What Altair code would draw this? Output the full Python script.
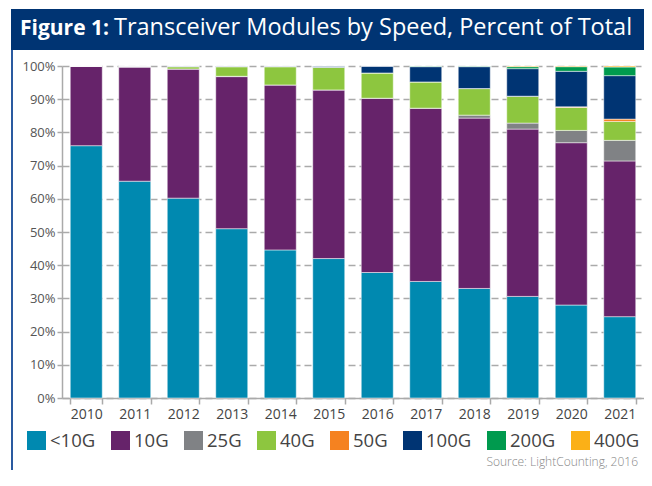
import altair as alt
import pandas as pd

years = [str(y) for y in range(2010, 2022)]
speeds = ["<10G", "10G", "25G", "40G", "50G", "100G", "200G", "400G"]
colors = ["#0089b0", "#66236a", "#808285", "#8dc63f", "#f58220", "#003473", "#009a4e", "#fbb017"]

# percent of total per speed, per year (2010..2021)
s_lt10g = [76.0, 65.3, 60.2, 51.0, 44.6, 42.0, 37.8, 35.1, 33.0, 30.6, 28.0, 24.5]
s_10g   = [24.0, 34.4, 38.9, 45.8, 49.7, 50.8, 52.5, 52.2, 51.3, 50.4, 48.9, 46.9]
s_25g   = [0.0, 0.0, 0.0, 0.1, 0.0, 0.0, 0.0, 0.0, 0.9, 1.8, 3.7, 6.2]
s_40g   = [0.0, 0.2, 0.7, 2.9, 5.5, 6.8, 7.6, 7.9, 8.0, 8.1, 6.9, 5.7]
s_50g   = [0.0, 0.0, 0.0, 0.0, 0.0, 0.0, 0.0, 0.0, 0.0, 0.0, 0.2, 0.7]
s_100g  = [0.0, 0.1, 0.2, 0.2, 0.2, 0.4, 2.1, 4.6, 6.6, 8.3, 10.7, 13.1]
s_200g  = [0.0, 0.0, 0.0, 0.0, 0.0, 0.0, 0.0, 0.2, 0.2, 0.6, 1.4, 2.6]
s_400g  = [0.0, 0.0, 0.0, 0.0, 0.0, 0.0, 0.0, 0.0, 0.0, 0.2, 0.2, 0.3]

series = [s_lt10g, s_10g, s_25g, s_40g, s_50g, s_100g, s_200g, s_400g]
rows = []
for si, (sp, vals) in enumerate(zip(speeds, series)):
    for y, v in zip(years, vals):
        rows.append({"year": y, "speed": sp, "value": v, "order": si})
df = pd.DataFrame(rows)

FONT = "Open Sans"

bars = alt.Chart(df).mark_bar(stroke="#ffffff", strokeOpacity=0.5, strokeWidth=1).encode(
    x=alt.X("year:N", sort=years, title=None,
            scale=alt.Scale(paddingInner=0.34, paddingOuter=0.17),
            axis=alt.Axis(labelAngle=0, labelFontSize=14, labelColor="#444", labelFont=FONT,
                          tickBand="extent", tickSize=6, tickColor="#aaa", tickWidth=1.5,
                          domainColor="#aaa", domainWidth=1.5, labelPadding=3, grid=False)),
    y=alt.Y("value:Q", stack="normalize", title=None,
            scale=alt.Scale(domain=[0, 1], nice=False),
            axis=alt.Axis(values=[i / 10 for i in range(11)], format=".0%", labelFontSize=13,
                          labelColor="#555", labelFont=FONT, tickSize=5, tickColor="#aaa",
                          tickWidth=1.5, domainColor="#aaa", domainWidth=1.5, labelPadding=2,
                          grid=True, gridDash=[7, 4], gridColor="#aaa", gridWidth=1.5)),
    color=alt.Color("speed:N", sort=speeds,
                    scale=alt.Scale(domain=speeds, range=colors),
                    legend=alt.Legend(title=None)),
    order=alt.Order("order:Q", sort="ascending"),
)

one = pd.DataFrame({"a": [0]})
banner = alt.Chart(one).mark_rect(color="#003473").encode(
    x=alt.value(-51), x2=alt.value(600), y=alt.value(-57), y2=alt.value(-16))
leftline = alt.Chart(one).mark_rule(color="#2a5aa0", strokeWidth=2).encode(
    x=alt.value(-50), y=alt.value(-16), y2=alt.value(420))
t_bold = alt.Chart(one).mark_text(align="left", baseline="alphabetic", font=FONT, fontSize=21,
                                  fontWeight="bold", color="white").encode(
    x=alt.value(-42), y=alt.value(-31), text=alt.value("Figure 1:"))
t_reg = alt.Chart(one).mark_text(align="left", baseline="alphabetic", font=FONT, fontSize=23.5,
                                 color="white").encode(
    x=alt.value(52), y=alt.value(-31), text=alt.value("Transceiver Modules by Speed, Percent of Total"))
source = alt.Chart(one).mark_text(align="right", baseline="alphabetic", font=FONT, fontSize=12,
                                  color="#888", fontWeight=300).encode(
    x=alt.value(576), y=alt.value(400), text=alt.value("Source: LightCounting, 2016"))

chart = alt.layer(banner, leftline, t_bold, t_reg, bars, source).properties(
    width=582, height=332,
    autosize=alt.AutoSizeParams(type="none"),
    padding={"left": 54, "top": 58, "right": 0, "bottom": 72},
).configure_view(stroke=None).configure_legend(
    orient="none", legendX=-35, legendY=365, direction="horizontal", columns=8,
    symbolType="square", symbolSize=361, symbolStrokeWidth=0, symbolOpacity=1,
    labelFontSize=18.5, labelFont=FONT, labelColor="#444", labelOffset=4,
    columnPadding=15, padding=0,
)

chart.save("out.html", embed_options={"renderer": "svg", "actions": False})
